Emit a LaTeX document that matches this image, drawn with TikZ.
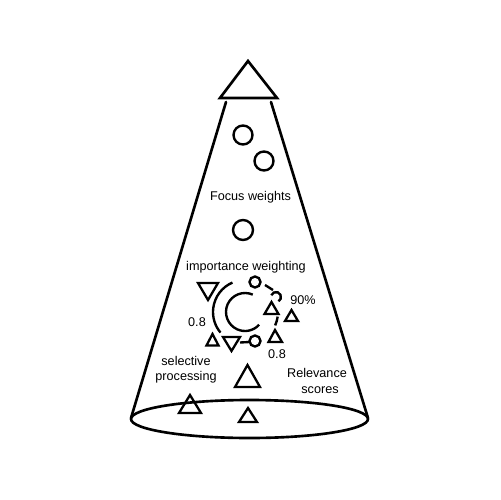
\documentclass[tikz,border=0pt]{standalone}
\usepackage{fontspec}
\setmainfont{Liberation Sans}
\begin{document}
\begin{tikzpicture}[x=0.02cm,y=-0.02cm,
  thickline/.style={line width=1.5pt, line cap=round},
  tri/.style={line width=1.3pt, line join=miter},
  ring/.style={line width=1.35pt},
  lbl/.style={font=\fontsize{7.2}{8.6}\selectfont, inner sep=0pt}]
\useasboundingbox (0,0) rectangle (500,500);
% top triangle
\draw[tri, line width=1.5pt] (248,61) -- (277,98) -- (220,98) -- cycle;
% cone
\coordinate (tl) at (226,102); \coordinate (tr) at (271,102);
\coordinate (bl) at (131,418); \coordinate (br) at (368,418);
\draw[thickline] (tl) -- (bl);
\draw[thickline] (tr) -- (br);
\draw[thickline] (249.5,419) ellipse [x radius=118.5, y radius=19];
% focus circles
\draw[ring] (243,135) circle[radius=9.5];
\draw[ring] (264,161) circle[radius=9.5];
\draw[ring] (243,230) circle[radius=10];
% labels
\node[lbl, anchor=base] (fw) at (250.5,200) {Focus weights};
\node[lbl, anchor=base] (iw) at (246,270) {importance weighting};
\node[lbl] (p90) at (303,300) {90\%};
\node[lbl] (l08) at (197,322) {0.8};
\node[lbl] (r08) at (277,354) {0.8};
\node[lbl, anchor=base] (sel1) at (186,365) {selective};
\node[lbl, anchor=base] (sel2) at (186,380) {processing};
\node[lbl, anchor=base] (rel1) at (317,377) {Relevance};
\node[lbl, anchor=base] (rel2) at (320,393) {scores};
% ring
\coordinate (c) at (245,312);
\draw[ring] ([shift={(c)}]-66:19) arc[start angle=-66, end angle=-318, radius=19];
\draw[ring] ([shift={(c)}]-113:32) arc[start angle=-113, end angle=-220, radius=32];
\draw[ring] ([shift={(c)}]8:33) arc[start angle=8, end angle=24, radius=33];
\draw[ring] (255,282) circle[radius=5.5];
\draw[ring] (255,341) circle[radius=5.5];
\draw[ring] ([shift={(276,297)}]-160:5) arc[start angle=-160, end angle=60, radius=5];
\draw[ring] (265,285) -- (273,290);
\draw[ring] (240,342.5) -- (249.5,342);
% triangles
\draw[tri] (198,283) -- (218,283) -- (208,300) -- cycle;
\draw[tri] (264.5,314) -- (278.5,314) -- (271.5,302) -- cycle;
\draw[tri] (285,321) -- (298,321) -- (291.5,310) -- cycle;
\draw[tri] (268.5,342) -- (282,342) -- (275,330) -- cycle;
\draw[tri] (206.5,345.5) -- (218.5,345.5) -- (212.5,334) -- cycle;
\draw[tri] (223,337) -- (240,337) -- (231.5,351) -- cycle;
\draw[tri] (235,387) -- (260,387) -- (247.5,365) -- cycle;
\draw[tri] (179,413) -- (201,413) -- (190,395) -- cycle;
\draw[tri] (239,422) -- (257,422) -- (248,408) -- cycle;
\end{tikzpicture}
\end{document}
